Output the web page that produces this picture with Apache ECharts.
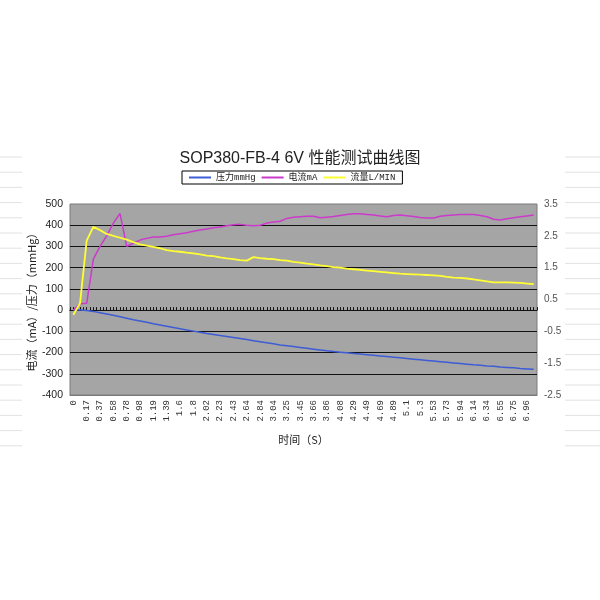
<!DOCTYPE html>
<html>
<head>
<meta charset="utf-8">
<title>SOP380-FB-4 6V</title>
<script src="https://cdn.jsdelivr.net/npm/echarts@6/dist/echarts.min.js"></script>
<style>
	html,body{margin:0;padding:0;background:#fff;}
	#main{width:600px;height:600px;}
</style>
</head>
<body>
<div id="main"></div>
<script>
	// 时间刻度标签（每两个采样点显示一个）
	var timeLabels = ['0','0.17','0.37','0.58','0.78','0.98','1.19','1.39','1.6','1.8',
		'2.02','2.23','2.43','2.64','2.84','3.04','3.25','3.45','3.66','3.86',
		'4.08','4.29','4.49','4.69','4.89','5.1','5.3','5.53','5.73','5.94',
		'6.14','6.34','6.55','6.75','6.96'];

	// 压力 mmHg（左轴）
	var pressure = [0,0,-2,-6,-12,-18,-24,-31,-38,-45,
		-51,-57,-64,-70,-76,-82,-88,-94,-99,-104,
		-110,-115,-120,-124,-129,-134,-139,-144,-149,-154,
		-159,-164,-168,-172,-176,-180,-184,-188,-192,-195,
		-198,-201,-204,-207,-210,-213,-216,-219,-222,-225,
		-228,-231,-234,-237,-240,-243,-246,-249,-252,-255,
		-258,-260,-263,-265,-268,-270,-272,-275,-277,-279];

	// 电流 mA（左轴）
	var current = [0,30,32,240,300,350,410,455,300,315,
		330,338,345,345,348,355,360,365,372,377,
		382,388,392,398,402,404,400,397,400,410,
		415,419,432,438,440,442,442,435,438,441,
		446,450,454,454,451,448,444,440,446,448,
		445,441,436,434,434,442,446,448,450,451,
		450,446,440,428,425,430,435,440,444,448];

	// 流量 L/MIN（右轴）
	var flow = [0.02,0.38,2.35,2.78,2.68,2.56,2.50,2.44,2.38,2.30,
		2.23,2.19,2.15,2.11,2.05,2.02,2.00,1.97,1.95,1.92,
		1.88,1.86,1.82,1.79,1.77,1.74,1.72,1.83,1.80,1.78,
		1.77,1.74,1.72,1.68,1.66,1.63,1.60,1.57,1.55,1.52,
		1.50,1.47,1.45,1.43,1.41,1.39,1.37,1.35,1.33,1.31,
		1.30,1.29,1.28,1.27,1.26,1.24,1.21,1.19,1.18,1.16,
		1.13,1.10,1.07,1.04,1.04,1.04,1.03,1.02,1.00,0.98];

	// 每个标签后面补一个空位
	var cats = [];
	for(var i=0;i<timeLabels.length;i++){
		cats.push(timeLabels[i]);
		cats.push('');
	}

	// 背景上的浅色横线
	var bgLines = [];
	for(var k=0;k<20;k++){
		var y = 157 + k*15.2;
		bgLines.push({type:'line',shape:{x1:0,y1:y,x2:22,y2:y},style:{stroke:'#e2e2e2',lineWidth:1},silent:true});
		bgLines.push({type:'line',shape:{x1:565,y1:y,x2:600,y2:y},style:{stroke:'#e2e2e2',lineWidth:1},silent:true});
	}

	var cjk = "'Noto Sans CJK SC'";
	var option = {
		animation:false,
		backgroundColor:'#fff',
		graphic:bgLines,
		title:{
			text:'SOP380-FB-4 6V 性能测试曲线图',
			left:'center',
			top:146,
			textStyle:{fontSize:16,fontWeight:'normal',color:'#222',fontFamily:"'Liberation Sans'," + cjk}
		},
		legend:{
			data:['压力mmHg','电流mA','流量L/MIN'],
			top:171,
			left:182,
			padding:[2,7,2,7],
			itemGap:6,
			itemWidth:22,
			itemHeight:2,
			icon:'rect',
			borderColor:'#000',
			borderWidth:1,
			textStyle:{fontSize:9,color:'#222',fontFamily:"'Liberation Mono'," + cjk}
		},
		grid:{
			left:70,right:63,top:204,bottom:205,
			show:true,
			backgroundColor:'#a5a5a5',
			borderColor:'#7a7a7a',
			borderWidth:1
		},
		xAxis:[{
			type:'category',
			data:cats,
			boundaryGap:true,
			position:'bottom',
			axisLine:{onZero:false,lineStyle:{color:'#7a7a7a'}},
			axisTick:{show:false},
			axisLabel:{interval:0,rotate:90,fontSize:9,color:'#333',margin:5,fontFamily:"'Liberation Mono'"},
			name:'时间（S）',
			nameLocation:'middle',
			nameGap:39,
			nameMoveOverlap:false,
			nameTextStyle:{fontSize:11,color:'#222',fontFamily:cjk}
		},{
			// 零线上的密集刻度
			type:'value',
			min:0,max:140,interval:1,
			position:'bottom',
			axisLine:{show:true,onZero:true,onZeroAxisIndex:0,lineStyle:{color:'#111',width:1}},
			axisTick:{show:true,inside:true,length:3,lineStyle:{color:'#111',width:1}},
			axisLabel:{show:false},
			splitLine:{show:false}
		}],
		yAxis:[{
			type:'value',
			min:-400,max:500,interval:100,
			axisLine:{show:false},
			axisTick:{show:false},
			axisLabel:{fontSize:10.5,color:'#222',margin:7,fontFamily:"'Liberation Sans'"},
			splitLine:{show:true,showMinLine:false,showMaxLine:false,lineStyle:{color:'#111',width:1}},
			name:'电流（mA）/压力（mmHg）',
			nameLocation:'middle',
			nameGap:33,
			nameMoveOverlap:false,
			nameTextStyle:{fontSize:11,color:'#222',fontFamily:cjk}
		},{
			type:'value',
			min:-2.5,max:3.5,interval:1,
			position:'right',
			axisLine:{show:false},
			axisTick:{show:false},
			axisLabel:{fontSize:10,color:'#555',margin:7,fontFamily:"'Liberation Sans'"},
			splitLine:{show:false}
		}],
		series:[{
			name:'压力mmHg',
			type:'line',
			yAxisIndex:0,
			data:pressure,
			symbol:'none',
			color:'#3d5cd6',
			lineStyle:{width:1.5}
		},{
			name:'电流mA',
			type:'line',
			yAxisIndex:0,
			data:current,
			symbol:'none',
			color:'#cc3acc',
			lineStyle:{width:1.5}
		},{
			name:'流量L/MIN',
			type:'line',
			yAxisIndex:1,
			data:flow,
			symbol:'none',
			color:'#ffff33',
			lineStyle:{width:1.8}
		}]
	};
	var myChart = echarts.init(document.getElementById('main'));
	myChart.setOption(option);
</script>
</body>
</html>
